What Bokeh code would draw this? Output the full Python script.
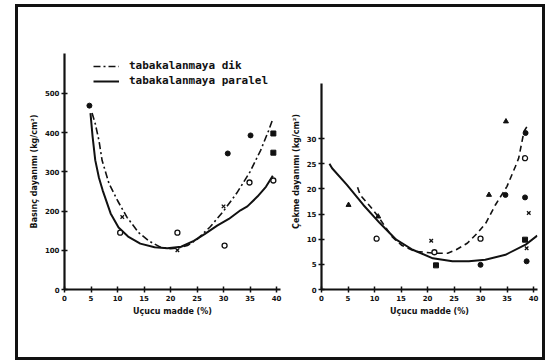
from bokeh.plotting import figure
from bokeh.layouts import row
from bokeh.models import Range1d, FixedTicker, Legend, LegendItem
from bokeh.embed import file_html
from bokeh.resources import INLINE

# ---------------- data ----------------
x_ticks = [0, 5, 10, 15, 20, 25, 30, 35, 40]
left_y_ticks = [0, 100, 200, 300, 400, 500]
right_y_ticks = [0, 5, 10, 15, 20, 25, 30]

legend_labels = ["tabakalanmaya dik", "tabakalanmaya paralel"]
x_label = "Uçucu madde (%)"
left_y_label = "Basınç dayanımı (kg/cm²)"
right_y_label = "Çekme dayanımı (kg/cm²)"

# left panel curves (compressive strength)
left_dik_x = [5.2, 5.8, 6.5, 7.1, 8.4, 10.0, 11.8, 14.0, 16.0, 18.1, 20.0, 21.5, 23.2, 25.0, 27.5, 30.0, 32.5, 35.0, 37.0, 38.5, 39.3]
left_dik_y = [450, 423, 380, 329, 270, 227, 184, 145, 123, 108, 104, 106, 112, 128, 160, 200, 246, 300, 355, 405, 435]
left_par_x = [4.9, 5.3, 5.8, 6.5, 7.2, 8.7, 10.2, 12.0, 14.3, 17.0, 19.4, 22.0, 24.4, 26.5, 28.8, 31.0, 33.2, 34.5, 36.4, 38.0, 39.3]
left_par_y = [450, 390, 330, 285, 253, 194, 158, 135, 117, 108, 105, 109, 124, 142, 163, 180, 202, 212, 237, 262, 290]

# left panel points
left_open_x = [10.5, 21.3, 30.2, 34.9, 39.4]
left_open_y = [145, 145, 112, 273, 278]
left_cross_x = [21.3, 30.0, 10.9]
left_cross_y = [100, 212, 185]
left_filled_x = [4.7, 35.1, 30.8]
left_filled_y = [469, 393, 347]
left_square_x = [39.4, 39.4]
left_square_y = [398, 349]

# right panel curves (tensile strength)
right_dik_x = [6.8, 7.3, 9.2, 10.7, 13.3, 15.1, 17.6, 21.4, 23.8, 25.4, 27.5, 29.5, 31.0, 32.8, 35.0, 36.6, 37.2, 38.2, 39.1]
right_dik_y = [20.3, 18.8, 16.5, 14.5, 10.5, 8.8, 7.6, 7.2, 7.2, 7.9, 9.2, 11.3, 13.2, 16.8, 20.5, 24.5, 26.1, 31.4, 33.0]
right_par_x = [1.5, 2.0, 4.8, 7.9, 11.0, 14.1, 17.2, 21.0, 24.7, 27.8, 30.9, 34.7, 38.5, 40.7]
right_par_y = [25.0, 24.1, 20.8, 16.8, 13.2, 9.9, 7.9, 6.2, 5.6, 5.6, 5.9, 6.9, 8.9, 10.7]

# right panel points
right_tri_x = [5.1, 10.7, 31.6, 34.8]
right_tri_y = [16.8, 14.5, 18.8, 33.4]
right_open_x = [10.4, 21.3, 30.0, 38.4]
right_open_y = [10.1, 7.4, 10.1, 26.1]
right_square_x = [21.6, 38.4]
right_square_y = [4.8, 9.9]
right_filled_x = [30.0, 34.7, 38.4, 38.7, 38.5]
right_filled_y = [4.9, 18.8, 18.3, 5.6, 31.1]
right_cross_x = [38.7, 39.1, 20.7]
right_cross_y = [8.2, 15.2, 9.7]

FONT = "DejaVu Sans"
INK = "#111111"


def style_axes(p, yticks):
    for ax in (p.xaxis[0], p.yaxis[0]):
        ax.axis_line_width = 2.2
        ax.axis_line_color = INK
        ax.major_tick_line_color = INK
        ax.major_tick_line_width = 1.5
        ax.major_tick_in = 3
        ax.major_tick_out = 3
        ax.minor_tick_line_color = None
        ax.major_label_text_font = FONT
        ax.major_label_text_font_style = "bold"
        ax.major_label_text_font_size = "7px"
        ax.major_label_text_color = INK
        ax.major_label_standoff = 2
        ax.axis_label_text_font = FONT
        ax.axis_label_text_font_style = "bold"
        ax.axis_label_text_font_size = "8px"
        ax.axis_label_text_color = INK
        ax.axis_label_standoff = 3
    p.xaxis[0].ticker = FixedTicker(ticks=x_ticks)
    p.yaxis[0].ticker = FixedTicker(ticks=yticks)
    p.xgrid.grid_line_color = None
    p.ygrid.grid_line_color = None
    p.outline_line_color = None


# ---------------- left panel ----------------
p1 = figure(width=270, height=350, output_backend="svg", toolbar_location=None,
            x_range=Range1d(0, 40.75), y_range=Range1d(0, 602),
            min_border_left=46, min_border_right=8, min_border_top=46, min_border_bottom=68,
            x_axis_label=x_label, y_axis_label=left_y_label,
            background_fill_color="white", border_fill_color="white")
style_axes(p1, left_y_ticks)

r_dik = p1.line(left_dik_x, left_dik_y, line_color=INK, line_width=1.6, line_dash="7 3 2 3")
r_par = p1.line(left_par_x, left_par_y, line_color=INK, line_width=2.0)
p1.scatter(left_open_x, left_open_y, marker="circle", size=5, line_color=INK, fill_color="white", line_width=1.3)
p1.scatter(left_cross_x, left_cross_y, marker="x", size=5, line_color=INK, line_width=1.3)
p1.scatter(left_filled_x, left_filled_y, marker="circle", size=5, line_color=INK, fill_color=INK)
p1.scatter(left_square_x, left_square_y, marker="square", size=5, line_color=INK, fill_color=INK)

legend = Legend(items=[LegendItem(label=legend_labels[0], renderers=[r_dik]),
                       LegendItem(label=legend_labels[1], renderers=[r_par])],
                location=(29, 202), border_line_color=None, background_fill_alpha=0,
                label_text_font="DejaVu Sans Mono", label_text_font_style="bold", label_text_font_size="11px",
                label_text_color=INK, glyph_width=26, glyph_height=10, label_height=10,
                spacing=2, padding=2, margin=0, label_standoff=10)
p1.add_layout(legend)

# ---------------- right panel ----------------
p2 = figure(width=254, height=350, output_backend="svg", toolbar_location=None,
            x_range=Range1d(0, 40.75), y_range=Range1d(0, 46.9),
            min_border_left=29, min_border_right=5, min_border_top=46, min_border_bottom=68,
            x_axis_label=x_label, y_axis_label=right_y_label,
            background_fill_color="white", border_fill_color="white")
style_axes(p2, right_y_ticks)
p2.yaxis[0].bounds = (0, 41)

p2.line(right_dik_x, right_dik_y, line_color=INK, line_width=1.6, line_dash="6 4")
p2.line(right_par_x, right_par_y, line_color=INK, line_width=2.0)
p2.scatter(right_tri_x, right_tri_y, marker="triangle", size=5, line_color=INK, fill_color=INK)
p2.scatter(right_open_x, right_open_y, marker="circle", size=5, line_color=INK, fill_color="white", line_width=1.3)
p2.scatter(right_square_x, right_square_y, marker="square", size=5, line_color=INK, fill_color=INK)
p2.scatter(right_filled_x, right_filled_y, marker="circle", size=5, line_color=INK, fill_color=INK)
p2.scatter(right_cross_x, right_cross_y, marker="x", size=5, line_color=INK, line_width=1.3)

layout = row(p1, p2, styles={"border": "3px solid #111111", "box-sizing": "content-box",
                             "position": "absolute", "left": "15px", "top": "4px"})

open("out.html", "w").write(file_html(layout, INLINE))
